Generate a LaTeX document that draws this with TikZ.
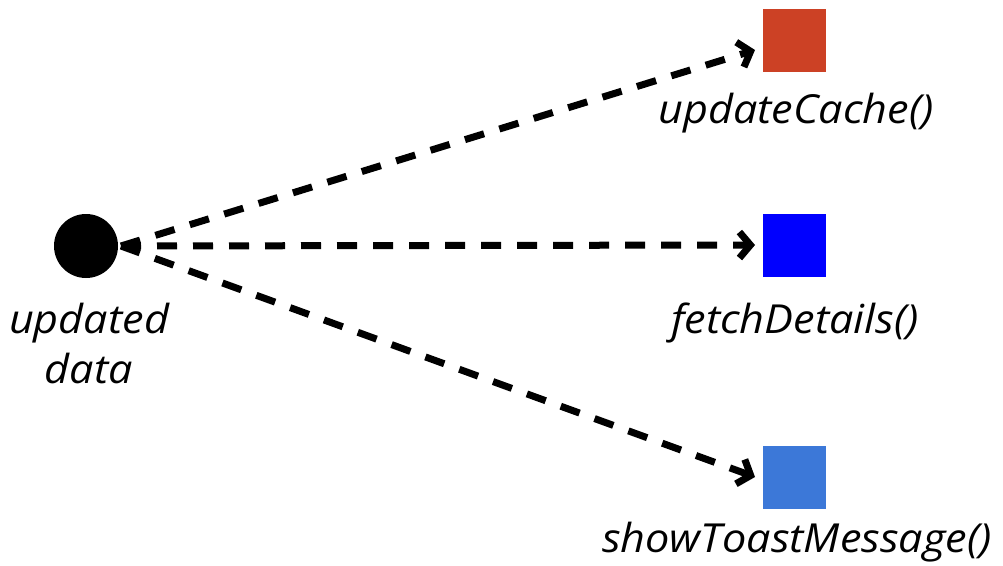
\documentclass[tikz,border=0pt]{standalone}
\usepackage{fontspec}
\setmainfont{Open Sans}[FakeStretch=1.08]
\usetikzlibrary{arrows.meta}
\definecolor{cred}{RGB}{204,65,37}
\definecolor{cblue}{RGB}{0,0,255}
\definecolor{clblue}{RGB}{60,120,216}
\begin{document}
\begin{tikzpicture}[x=1pt,y=-1pt,
  sq/.style={draw=none,minimum size=63pt,inner sep=0pt},
  lbl/.style={font=\fontsize{40}{50}\selectfont\itshape,inner sep=0pt,anchor=base},
  conn/.style={line width=7pt,dash pattern=on 20pt off 16pt,
    -{Straight Barb[length=11pt,width=26pt,line width=7pt]}}]
\useasboundingbox (0,0) rectangle (1003,565);
\node[circle,fill=black,minimum size=64pt,inner sep=0pt] (c) at (86,246) {};
\node[sq,fill=cred] (r) at (794.5,40) {};
\node[sq,fill=cblue] (b) at (794.5,245) {};
\node[sq,fill=clblue] (l) at (794.5,477) {};
\coordinate (s) at (121,246);
\coordinate (er) at (755,50);
\coordinate (eb) at (755,245);
\coordinate (el) at (755,477);
\draw[conn] (s) -- (er);
\draw[conn] (s) -- (eb);
\draw[conn] (s) -- (el);
\node[lbl] (t1) at (796,123) {updateCache()};
\node[lbl] (t2) at (795,333) {fetchDetails()};
\node[lbl] (t3) at (797,552) {showToastMessage()};
\node[lbl] (t4) at (89,333) {updated};
\node[lbl] (t5) at (89,383) {data};
\end{tikzpicture}
\end{document}
